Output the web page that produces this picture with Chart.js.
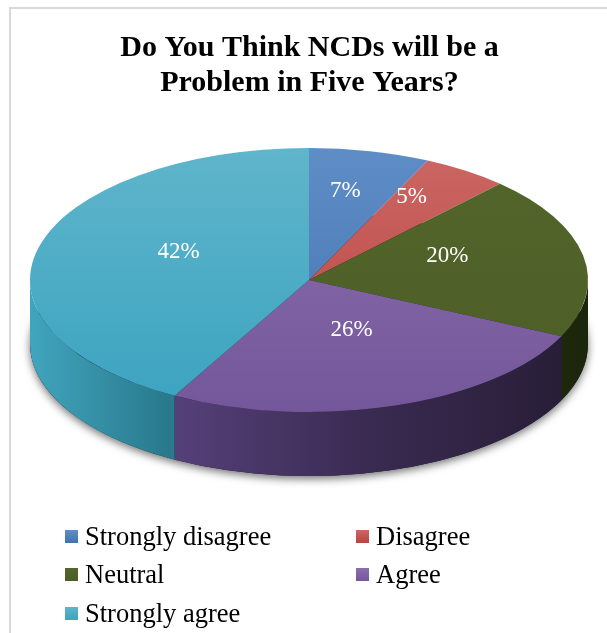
<!DOCTYPE html>
<html>
<head>
<meta charset="utf-8">
<script src="https://cdn.jsdelivr.net/npm/chart.js@4/dist/chart.umd.min.js"></script>
<style>
html, body { margin: 0; padding: 0; background: #fff; }
#wrap { position: relative; width: 607px; height: 633px; overflow: hidden; font-family: "Liberation Serif", "Times New Roman", serif; }
#frame { position: absolute; left: 9px; top: 7px; width: 700px; height: 700px; border-left: 2px solid #d9d9d9; border-top: 2px solid #d9d9d9; }
canvas { position: absolute; left: 0; top: 0; }
.item { position: absolute; height: 28px; display: flex; align-items: center; font-size: 26.5px; color: #000; white-space: nowrap; }
.sw { width: 13px; height: 13px; margin-right: 7px; }
</style>
</head>
<body>
<div id="wrap">
  <div id="frame"></div>
  <canvas id="pieChart" width="607" height="633"></canvas>
  <div id="legend"></div>
</div>
<script>
// --- data ---
const titleLines = ['Do You Think NCDs will be a', 'Problem in Five Years?'];
const categories = ['Strongly disagree', 'Disagree', 'Neutral', 'Agree', 'Strongly agree'];
const percents = [7, 5, 20, 26, 42];

// top face colours (light top -> darker bottom)
const topColors = [
    ['#5f8dc6', '#4172b0'],
    ['#cb6764', '#b9423e'],
    ['#52652a', '#4c5e26'],
    ['#8a6fad', '#74579a'],
    ['#5fb5cb', '#3ba3c0']
];
// side colours, horizontal gradient across the pie
const sideStops = [
    [[0, '#3b66a0'], [1, '#22406a']],
    [[0, '#9a3a37'], [1, '#6a2523']],
    [[0, '#2e3b15'], [1, '#1c260b']],
    [[0, '#6a4f8c'], [0.25, '#56407a'], [0.6, '#3a2b52'], [1, '#261c34']],
    [[0, '#40a5bd'], [0.24, '#2a7a8e'], [1, '#1a5060']]
];

// ellipse geometry of the 3D pie on the page
const CX = 309, CY = 280, RX = 279, RY = 132, DEPTH = 64;
const LABEL_DY = -12;

// =======================================================================
// plugin: squash the pie into an ellipse and give it a side wall
// =======================================================================
const pie3d = {
    id: 'pie3d',
    beforeDatasetsDraw(chart) {
        const ctx = chart.ctx;
        const arcs = chart.getDatasetMeta(0).data;

        // soft shadow under the disc
        ctx.save();
        ctx.shadowColor = 'rgba(0,0,0,0.55)';
        ctx.shadowBlur = 9;
        ctx.shadowOffsetY = 3;
        ctx.fillStyle = '#1e1a28';
        ctx.beginPath();
        ctx.ellipse(CX, CY + DEPTH, RX, RY, 0, 0, Math.PI * 2);
        ctx.fill();
        ctx.restore();

        // side wall, only the front half is visible
        arcs.forEach((arc, i) => {
            const a1 = Math.max(arc.startAngle, 0);
            const a2 = Math.min(arc.endAngle, Math.PI);
            if (a2 <= a1) return;
            const g = ctx.createLinearGradient(CX - RX, 0, CX + RX, 0);
            sideStops[i].forEach(s => g.addColorStop(s[0], s[1]));
            ctx.fillStyle = g;
            ctx.beginPath();
            ctx.ellipse(CX, CY, RX, RY, 0, a1, a2, false);
            ctx.ellipse(CX, CY + DEPTH, RX, RY, 0, a2, a1, true);
            ctx.closePath();
            ctx.fill();
        });

        // top face: map the library's circle onto the ellipse
        const p = arcs[0];
        const r = p.outerRadius;
        ctx.save();
        ctx.translate(CX, CY);
        ctx.scale(RX / r, RY / r);
        ctx.translate(-p.x, -p.y);
    },
    afterDatasetsDraw(chart) {
        const ctx = chart.ctx;
        ctx.restore();

        const arcs = chart.getDatasetMeta(0).data;
        ctx.save();
        ctx.font = '23px "Liberation Serif", "Times New Roman", serif';
        ctx.fillStyle = '#ffffff';
        ctx.textAlign = 'center';
        ctx.textBaseline = 'middle';
        arcs.forEach((arc, i) => {
            const mid = (arc.startAngle + arc.endAngle) / 2;
            const half = (arc.endAngle - arc.startAngle) / 2;
            // narrow slices push their label outwards so it fits
            const f = 0.45 + 0.032 / Math.sin(Math.min(half, Math.PI / 2));
            const x = CX + RX * f * Math.cos(mid);
            const y = CY + RY * f * Math.sin(mid) + LABEL_DY;
            ctx.fillText(percents[i] + '%', x, y);
        });
        ctx.restore();
    }
};

function topFill(c) {
    const i = c.dataIndex;
    const a = c.chart.chartArea;
    if (!a || i === undefined) return topColors[i || 0][0];
    const cy = (a.top + a.bottom) / 2;
    const r = Math.min(a.width, a.height) / 2;
    const g = c.chart.ctx.createLinearGradient(0, cy - r, 0, cy + r);
    g.addColorStop(0, topColors[i][0]);
    g.addColorStop(1, topColors[i][1]);
    return g;
}

new Chart(document.getElementById('pieChart'), {
    type: 'pie',
    data: {
        labels: categories,
        datasets: [{
            data: percents,
            backgroundColor: topFill,
            borderWidth: 0
        }]
    },
    options: {
        responsive: false,
        animation: false,
        layout: { padding: { left: 12 } },
        plugins: {
            legend: { display: false },
            tooltip: { enabled: false },
            title: {
                display: true,
                text: titleLines,
                color: '#000',
                font: { family: '"Liberation Serif", "Times New Roman", serif', size: 30, weight: 'bold', lineHeight: 1.15 },
                padding: { top: 31, bottom: 10 }
            }
        }
    },
    plugins: [pie3d]
});

// =======================================================================
// legend (two columns)
// =======================================================================
const legendEl = document.getElementById('legend');
categories.forEach((name, i) => {
    const item = document.createElement('div');
    item.className = 'item';
    item.style.left = (i % 2 === 0 ? 65 : 356) + 'px';
    item.style.top = (522 + Math.floor(i / 2) * 38.5) + 'px';
    const sw = document.createElement('span');
    sw.className = 'sw';
    sw.style.background = 'linear-gradient(' + topColors[i][0] + ',' + topColors[i][1] + ')';
    item.appendChild(sw);
    item.appendChild(document.createTextNode(name));
    legendEl.appendChild(item);
});
</script>
</body>
</html>
